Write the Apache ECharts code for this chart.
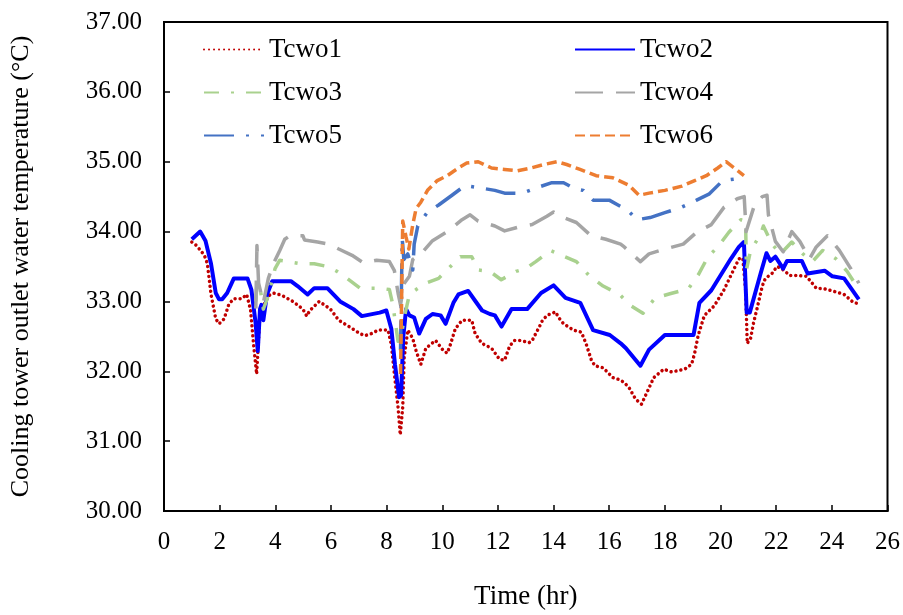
<!DOCTYPE html>
<html>
<head>
<meta charset="utf-8">
<script src="https://cdn.jsdelivr.net/npm/echarts@6/dist/echarts.min.js"></script>
<style>
  html, body { margin: 0; padding: 0; background: #fff; }
  #chart { width: 903px; height: 615px; }
</style>
</head>
<body>
<div id="chart"></div>
<script>
// Cooling tower outlet water temperatures [time (hr), temperature (°C)]
var tcwo1 = [[1.0,33.85],[1.17,33.8],[1.45,33.66],[1.56,33.54],[1.69,33.1],[1.86,32.75],[1.98,32.68],[2.16,32.75],[2.33,32.96],[2.51,33.04],[2.8,33.04],[2.97,33.1],[3.11,32.88],[3.22,32.38],[3.33,31.96],[3.45,32.84],[3.63,32.98],[3.75,33.08],[3.93,33.12],[4.22,33.09],[4.63,33.0],[4.99,32.89],[5.13,32.79],[5.24,32.87],[5.58,33.0],[5.98,32.89],[6.28,32.73],[6.69,32.63],[7.04,32.54],[7.22,32.51],[7.46,32.54],[7.7,32.59],[8.05,32.59],[8.17,32.38],[8.28,31.96],[8.41,31.49],[8.49,31.09],[8.58,31.49],[8.63,32.19],[8.76,32.59],[8.94,32.47],[9.06,32.29],[9.23,32.1],[9.41,32.33],[9.76,32.44],[10.05,32.29],[10.18,32.26],[10.29,32.38],[10.47,32.61],[10.71,32.73],[11.06,32.73],[11.18,32.54],[11.42,32.4],[11.77,32.33],[12.06,32.17],[12.24,32.16],[12.42,32.36],[12.59,32.44],[12.83,32.44],[13.12,32.41],[13.23,32.44],[13.36,32.54],[13.48,32.63],[13.59,32.72],[13.76,32.8],[14.07,32.85],[14.18,32.77],[14.36,32.68],[14.71,32.59],[15.0,32.56],[15.18,32.38],[15.35,32.17],[15.48,32.08],[15.78,32.05],[16.13,31.91],[16.37,31.88],[16.54,31.84],[16.72,31.76],[16.95,31.6],[17.16,31.53],[17.37,31.71],[17.6,31.91],[17.96,32.03],[18.25,31.99],[18.71,32.03],[18.96,32.1],[19.07,32.26],[19.2,32.52],[19.42,32.8],[19.78,32.94],[20.13,33.17],[20.49,33.47],[20.66,33.61],[20.8,33.62],[20.9,33.17],[20.96,32.4],[21.08,32.47],[21.19,32.7],[21.32,32.91],[21.5,33.22],[21.61,33.33],[21.85,33.4],[22.03,33.5],[22.2,33.47],[22.5,33.37],[22.78,33.37],[23.09,33.36],[23.44,33.19],[23.74,33.18],[24.2,33.13],[24.44,33.1],[24.79,32.98],[25.0,32.97]];

var tcwo2 = [[1.0,33.89],[1.3,34.0],[1.49,33.87],[1.69,33.54],[1.86,33.12],[1.98,33.03],[2.09,33.03],[2.27,33.12],[2.51,33.33],[3.0,33.33],[3.14,33.17],[3.29,32.7],[3.37,32.29],[3.45,32.89],[3.5,32.95],[3.57,32.73],[3.7,33.1],[3.89,33.29],[4.56,33.29],[4.8,33.22],[5.16,33.1],[5.4,33.19],[5.87,33.19],[6.33,33.0],[6.81,32.89],[7.11,32.79],[7.75,32.84],[7.99,32.87],[8.17,32.61],[8.3,32.1],[8.45,31.63],[8.52,31.66],[8.6,32.5],[8.7,32.89],[8.82,32.8],[8.99,32.77],[9.17,32.54],[9.41,32.75],[9.65,32.82],[9.94,32.8],[10.12,32.68],[10.4,32.98],[10.58,33.1],[10.93,33.15],[11.18,33.01],[11.43,32.87],[11.71,32.82],[11.89,32.8],[12.13,32.64],[12.49,32.89],[13.05,32.89],[13.55,33.12],[14.0,33.23],[14.43,33.05],[14.96,32.98],[15.42,32.59],[16.02,32.52],[16.41,32.4],[16.6,32.33],[17.12,32.08],[17.43,32.31],[18.0,32.52],[19.03,32.52],[19.24,32.98],[19.67,33.16],[20.37,33.61],[20.66,33.78],[20.84,33.85],[20.94,32.84],[21.05,32.84],[21.44,33.4],[21.65,33.69],[21.79,33.58],[21.97,33.64],[22.25,33.47],[22.39,33.58],[22.92,33.58],[23.13,33.4],[23.74,33.44],[24.02,33.36],[24.44,33.33],[24.97,33.03]];

var tcwo3 = [[3.3,33.0],[3.34,33.25],[3.45,33.2],[3.57,32.89],[3.75,33.08],[3.99,33.47],[4.16,33.59],[4.92,33.54],[5.4,33.54],[5.87,33.5],[6.22,33.43],[6.58,33.33],[7.04,33.19],[7.75,33.19],[8.1,33.17],[8.23,32.94],[8.41,32.43],[8.52,32.5],[8.65,32.8],[8.82,33.1],[9.06,33.17],[9.41,33.26],[9.87,33.33],[10.22,33.47],[10.65,33.64],[11.06,33.64],[11.29,33.45],[11.71,33.43],[12.12,33.31],[12.65,33.43],[13.0,33.47],[13.36,33.57],[13.89,33.73],[14.29,33.66],[14.82,33.57],[15.3,33.36],[15.78,33.22],[16.37,33.1],[16.77,32.94],[17.21,32.83],[17.65,33.05],[18.18,33.11],[18.84,33.18],[19.2,33.38],[19.55,33.64],[19.9,33.78],[20.3,33.99],[20.73,34.17],[20.9,34.15],[20.93,33.45],[21.08,33.73],[21.44,33.96],[21.54,34.08],[21.85,33.82],[22.15,33.68],[22.56,33.85],[22.96,33.68],[23.3,33.57],[23.67,33.73],[24.15,33.61],[24.55,33.43],[24.97,33.17]];

var tcwo4 = [[3.3,32.9],[3.34,33.8],[3.4,33.26],[3.57,32.98],[3.75,33.33],[3.93,33.54],[4.16,33.73],[4.34,33.89],[4.52,33.94],[4.99,33.94],[5.05,33.88],[5.52,33.85],[5.93,33.82],[6.28,33.75],[6.76,33.66],[7.17,33.55],[7.64,33.59],[8.1,33.57],[8.28,33.44],[8.42,33.1],[8.5,32.95],[8.62,33.25],[8.82,33.36],[8.94,33.6],[9.23,33.68],[9.65,33.87],[10.18,34.0],[10.71,34.17],[11.0,34.24],[11.29,34.15],[11.89,34.08],[12.24,34.01],[12.7,34.06],[13.23,34.1],[13.76,34.22],[14.0,34.28],[14.29,34.21],[14.82,34.13],[15.35,33.94],[15.88,33.89],[16.41,33.82],[16.54,33.78],[17.12,33.57],[17.43,33.68],[18.0,33.75],[18.66,33.82],[19.14,33.99],[19.67,34.1],[20.13,34.35],[20.6,34.47],[20.85,34.5],[20.92,34.0],[21.22,34.38],[21.5,34.5],[21.67,34.52],[21.72,34.24],[21.97,33.86],[22.25,33.71],[22.56,34.0],[22.85,33.86],[23.2,33.61],[23.44,33.78],[23.84,33.94],[24.27,33.73],[24.68,33.47],[24.97,33.26]];

var tcwo5 = [[8.5,32.3],[8.56,33.9],[8.62,33.6],[8.76,33.68],[8.94,33.45],[8.99,33.82],[9.12,34.08],[9.47,34.28],[9.87,34.38],[10.35,34.52],[10.82,34.66],[11.29,34.63],[11.89,34.59],[12.24,34.55],[12.88,34.55],[13.41,34.63],[13.94,34.7],[14.36,34.7],[14.78,34.61],[15.07,34.59],[15.42,34.45],[16.0,34.45],[16.41,34.36],[16.6,34.33],[17.0,34.17],[17.47,34.2],[18.0,34.27],[18.61,34.35],[19.14,34.45],[19.6,34.54],[20.08,34.73],[20.49,34.75],[20.75,34.78]];

var tcwo6 = [[8.5,31.96],[8.58,34.15],[8.7,33.92],[8.8,33.75],[8.94,34.1],[9.06,34.33],[9.23,34.42],[9.47,34.59],[9.82,34.73],[10.18,34.8],[10.58,34.91],[10.88,34.98],[11.29,35.0],[11.77,34.91],[12.24,34.89],[12.7,34.87],[13.18,34.91],[13.65,34.96],[14.12,35.0],[14.47,34.96],[14.95,34.89],[15.53,34.8],[16.13,34.77],[16.72,34.66],[17.07,34.52],[17.43,34.55],[18.0,34.59],[18.61,34.65],[19.07,34.73],[19.49,34.8],[19.9,34.91],[20.2,35.0],[20.49,34.91],[20.84,34.8]];

var seriesNames = ['Tcwo1', 'Tcwo2', 'Tcwo3', 'Tcwo4', 'Tcwo5', 'Tcwo6'];
var seriesData = [tcwo1, tcwo2, tcwo3, tcwo4, tcwo5, tcwo6];

var styles = [
  { color: '#C00000', width: 3.5, type: [0.01, 5], cap: 'round' },
  { color: '#0000FF', width: 4,   type: 'solid',      cap: 'butt' },
  { color: '#A9D18E', width: 3.5, type: [15, 12, 3, 12], cap: 'butt' },
  { color: '#A5A5A5', width: 3.5, type: [28, 13],     cap: 'butt' },
  { color: '#4472C4', width: 3.5, type: [30, 12, 3, 12], cap: 'butt' },
  { color: '#ED7D31', width: 3.5, type: [10, 5],      cap: 'butt' }
];

var FONT = '"Liberation Serif", "Times New Roman", serif';

var chart = echarts.init(document.getElementById('chart'), null, { renderer: 'canvas' });

var series = seriesNames.map(function (name, i) {
  var s = styles[i];
  return {
    name: name,
    type: 'line',
    data: seriesData[i],
    symbol: 'none',
    showSymbol: false,
    smooth: false,
    z: 2 + i,
    itemStyle: { color: s.color },
    lineStyle: { color: s.color, width: s.width, type: s.type, cap: s.cap, join: 'round' }
  };
});

function legendBlock(left, names) {
  return {
    left: left,
    top: 31,
    orient: 'vertical',
    itemWidth: 60,
    itemHeight: 12,
    itemGap: 16,
    itemStyle: { opacity: 0 },
    data: names,
    textStyle: { fontFamily: FONT, fontSize: 27, color: '#000', lineHeight: 27 }
  };
}

chart.setOption({
  animation: false,
  backgroundColor: '#fff',
  grid: {
    left: 154, right: 15, top: 22, bottom: 90,
    show: true, borderColor: '#000', borderWidth: 2, backgroundColor: 'transparent'
  },
  legend: [
    legendBlock(198, ['Tcwo1', 'Tcwo3', 'Tcwo5']),
    legendBlock(569, ['Tcwo2', 'Tcwo4', 'Tcwo6'])
  ],
  xAxis: {
    type: 'value',
    min: 0, max: 26, interval: 2,
    name: 'Time (hr)',
    nameLocation: 'middle',
    nameGap: 72,
    nameTextStyle: { fontFamily: FONT, fontSize: 27, color: '#000' },
    axisLine: { show: true, lineStyle: { color: '#000', width: 2 } },
    axisTick: { show: true, inside: true, length: 6, lineStyle: { color: '#000', width: 1.5 } },
    axisLabel: { fontFamily: FONT, fontSize: 25, color: '#000', margin: 19 },
    splitLine: { show: false }
  },
  yAxis: {
    type: 'value',
    min: 30, max: 37, interval: 1,
    name: 'Cooling tower outlet water temperature (°C)',
    nameLocation: 'middle',
    nameGap: 130,
    nameTextStyle: { fontFamily: FONT, fontSize: 26, color: '#000' },
    axisLine: { show: true, lineStyle: { color: '#000', width: 2 } },
    axisTick: { show: true, inside: true, length: 6, lineStyle: { color: '#000', width: 1.5 } },
    axisLabel: {
      fontFamily: FONT, fontSize: 25, color: '#000', margin: 22,
      formatter: function (v) { return v.toFixed(2); }
    },
    splitLine: { show: false }
  },
  series: series
});
</script>
</body>
</html>
